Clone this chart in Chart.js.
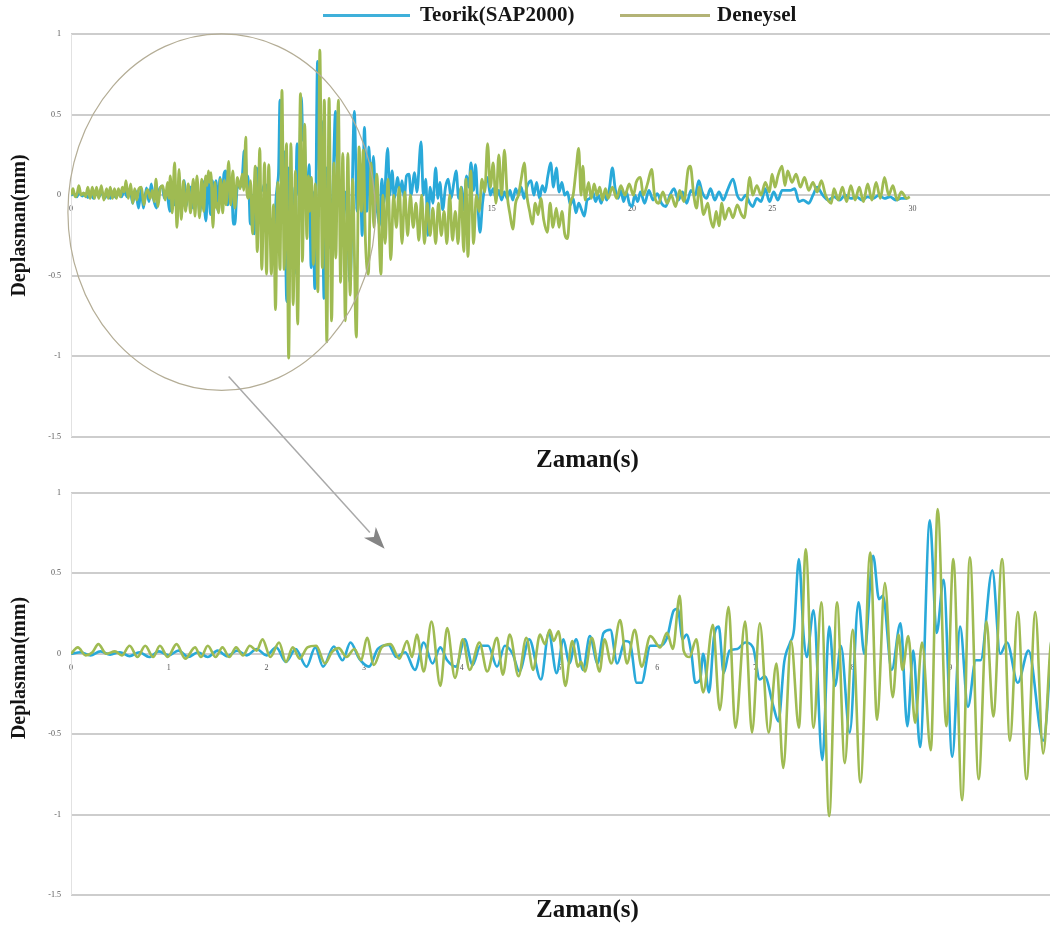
<!DOCTYPE html>
<html>
<head>
<meta charset="utf-8">
<script src="https://cdn.jsdelivr.net/npm/chart.js@4.4.1/dist/chart.umd.min.js"></script>
<style>
  html, body { margin: 0; padding: 0; background: #fff; }
  #page { position: relative; width: 1052px; height: 931px; overflow: hidden; }
  #page canvas { position: absolute; left: 0; }
  #topChart { top: 0; }
  #bottomChart { top: 478px; }
  #overlay { top: 0; pointer-events: none; }
  .legend { position: absolute; left: 0; top: 0; font: bold 21px "Liberation Serif", "Times New Roman", serif; color: #151515; }
  .legend .key { position: absolute; top: 14px; height: 3px; }
  .legend .lbl { position: absolute; top: 2px; line-height: 24px; white-space: nowrap; }
</style>
</head>
<body>
<div id="page">
  <canvas id="topChart" width="1052" height="478"></canvas>
  <canvas id="bottomChart" width="1052" height="453"></canvas>
  <canvas id="overlay" width="1052" height="931"></canvas>
  <div class="legend" id="legend"></div>
</div>
<script>
// Series names and colours
const seriesNames = ['Teorik(SAP2000)', 'Deneysel'];
const seriesColors = ['#29a9d9', '#9fbb52'];
const legendKeyColors = ['#3fb0da', '#b3b376'];

// Axis labels
const xTitle = 'Zaman(s)';
const yTitle = 'Deplasman(mm)';
const yTickValues = [1, 0.5, 0, -0.5, -1, -1.5];

// Teorik (SAP2000) displacement, [time s, displacement mm]
const teorikPoints = [
  [0,0],[0.1,0.01],[0.2,-0.01],[0.3,0.015],[0.4,-0.005],[0.5,0.01],[0.6,-0.015],[0.7,0.01],
  [0.8,-0.02],[0.9,0.015],[1.0,-0.01],[1.1,0.02],[1.2,-0.02],[1.3,0.01],[1.4,-0.02],[1.5,0.02],
  [1.6,-0.015],[1.7,0.02],[1.8,-0.01],[1.9,0.03],[2.0,-0.01],[2.1,0.04],[2.2,-0.05],[2.3,0.03],
  [2.41,-0.08],[2.5,0.04],[2.58,-0.08],[2.69,0.045],[2.78,-0.04],[2.86,0.07],[2.95,-0.03],[3.05,-0.08],
  [3.14,0.03],[3.25,0.055],[3.33,-0.02],[3.42,0.01],[3.52,-0.1],[3.61,0.07],[3.7,-0.06],[3.78,0.04],
  [3.85,-0.04],[3.94,-0.08],[4.03,0.09],[4.11,-0.07],[4.19,0.05],[4.27,0.05],[4.36,-0.08],[4.44,0.05],
  [4.52,0.0],[4.59,-0.11],[4.69,0.09],[4.81,-0.16],[4.89,0.13],[4.97,-0.12],[5.04,0.09],[5.1,-0.06],
  [5.17,0.09],[5.24,-0.1],[5.31,0.11],[5.39,-0.06],[5.45,0.13],[5.52,0.15],[5.59,-0.06],[5.67,0.08],
  [5.72,0.07],[5.79,-0.18],[5.84,-0.18],[5.93,0.05],[6.03,0.05],[6.1,0.1],[6.17,0.27],[6.21,0.28],
  [6.26,0.09],[6.3,0.12],[6.35,0.0],[6.39,-0.18],[6.44,-0.16],[6.47,0.0],[6.53,-0.24],[6.58,0.1],
  [6.63,0.17],[6.68,-0.12],[6.74,0.02],[6.82,0.03],[6.9,0.07],[6.98,0.04],[7.05,-0.16],[7.1,-0.14],
  [7.19,-0.33],[7.24,-0.42],[7.3,-0.05],[7.36,0.07],[7.4,0.15],[7.45,0.59],[7.5,0.1],[7.53,-0.02],
  [7.6,0.27],[7.69,-0.66],[7.76,0.17],[7.82,-0.2],[7.88,0.05],[7.97,-0.49],[8.06,0.32],[8.12,0.0],
  [8.21,0.61],[8.27,0.34],[8.31,0.36],[8.4,-0.1],[8.49,0.19],[8.56,-0.45],[8.62,0.02],[8.69,-0.58],
  [8.79,0.83],[8.86,0.13],[8.93,0.46],[9.02,-0.64],[9.1,0.17],[9.18,-0.33],[9.26,-0.04],[9.31,-0.04],
  [9.43,0.52],[9.51,0.0],[9.58,0.07],[9.69,-0.18],[9.8,0.02],[9.95,-0.54],[10.1,0.52],[10.2,-0.1],
  [10.3,0.2],[10.38,-0.25],[10.46,0.42],[10.55,-0.1],[10.62,0.3],[10.7,-0.05],[10.78,0.24],[10.86,-0.05],
  [10.93,-0.11],[11.0,-0.19],[11.08,0.1],[11.15,-0.05],[11.29,0.29],[11.36,0.0],[11.45,0.15],[11.52,-0.02],
  [11.65,0.11],[11.72,0.0],[11.8,0.09],[11.88,-0.02],[11.96,0.12],[12.05,0.13],[12.12,0.0],[12.25,0.14],
  [12.33,0.02],[12.48,0.33],[12.56,0.0],[12.65,0.1],[12.72,-0.25],[12.8,0.05],[12.9,-0.05],[13.0,0.17],
  [13.08,-0.02],[13.15,0.08],[13.25,-0.09],[13.35,0.05],[13.45,0.1],[13.55,-0.02],[13.65,0.08],[13.73,0.15],
  [13.82,-0.02],[13.92,0.05],[14.0,-0.09],[14.1,0.12],[14.18,0.05],[14.26,0.2],[14.35,0.03],[14.42,0.19],
  [14.5,-0.05],[14.58,-0.23],[14.67,-0.05],[14.75,0.05],[14.85,0.11],[14.95,0.0],[15.05,0.04],[15.15,-0.02],
  [15.25,0.03],[15.35,-0.03],[15.45,0.02],[15.55,-0.02],[15.65,0.03],[15.75,-0.03],[15.85,0.04],[15.95,0.0],
  [16.05,0.05],[16.15,-0.02],[16.25,0.05],[16.4,0.09],[16.5,0.0],[16.6,0.08],[16.7,-0.02],[16.8,0.06],
  [16.9,0.02],[17.0,0.12],[17.1,0.2],[17.2,0.05],[17.3,0.17],[17.4,0.02],[17.5,0.08],[17.6,0.0],
  [17.7,0.02],[17.8,-0.06],[17.9,-0.02],[18.0,-0.11],[18.1,-0.05],[18.2,-0.09],[18.3,-0.13],[18.4,-0.03],
  [18.5,-0.02],[18.6,0.02],[18.7,-0.04],[18.8,0.0],[18.9,-0.05],[19.0,0.01],[19.1,-0.03],[19.2,0.05],
  [19.3,0.17],[19.4,0.04],[19.5,-0.02],[19.6,0.03],[19.7,-0.04],[19.8,0.02],[19.9,-0.05],[20.0,-0.07],
  [20.1,0.0],[20.2,-0.04],[20.3,0.02],[20.45,-0.05],[20.6,0.03],[20.75,-0.03],[20.9,0.01],[21.05,-0.05],
  [21.2,-0.07],[21.35,0.0],[21.5,0.04],[21.65,-0.03],[21.8,0.02],[21.95,-0.05],[22.1,0.03],[22.25,0.0],
  [22.38,0.09],[22.5,0.02],[22.65,-0.02],[22.8,0.04],[22.95,-0.03],[23.1,0.02],[23.25,-0.03],[23.4,0.03],
  [23.6,0.1],[23.75,0.0],[23.9,-0.03],[24.05,0.0],[24.2,-0.05],[24.3,-0.07],[24.45,-0.02],[24.6,-0.04],
  [24.75,0.04],[24.9,-0.04],[25.05,0.02],[25.2,-0.03],[25.35,0.03],[25.5,0.03],[25.65,0.03],[25.8,0.04],
  [25.95,-0.04],[26.1,-0.03],[26.3,-0.05],[26.45,0.0],[26.6,0.05],[26.8,0.0],[27.0,-0.03],[27.2,-0.01],
  [27.4,-0.03],[27.6,0.0],[27.8,-0.02],[28.0,-0.01],[28.2,-0.03],[28.4,-0.01],[28.6,-0.02],[28.8,0.0],
  [29.0,-0.02],[29.2,-0.01],[29.4,-0.03],[29.6,-0.02],[29.8,-0.02]
];

// Deneysel (measured) displacement, [time s, displacement mm]
const deneyselPoints = [
  [0,0],[0.07,0.04],[0.15,-0.01],[0.22,0.01],[0.28,0.06],[0.36,0.0],[0.45,0.015],[0.52,-0.01],
  [0.6,0.05],[0.68,-0.02],[0.76,0.05],[0.84,-0.02],[0.91,0.05],[0.99,-0.02],[1.08,0.06],[1.17,-0.03],
  [1.27,0.04],[1.33,-0.02],[1.4,0.05],[1.48,-0.02],[1.55,0.04],[1.62,-0.02],[1.69,0.04],[1.76,-0.01],
  [1.83,0.05],[1.9,0.02],[1.96,0.09],[2.04,-0.02],[2.13,0.07],[2.2,-0.05],[2.27,0.04],[2.34,-0.03],
  [2.42,0.04],[2.51,0.05],[2.6,-0.06],[2.67,0.01],[2.74,0.035],[2.82,-0.02],[2.9,0.03],[2.97,-0.04],
  [3.03,0.1],[3.1,-0.07],[3.18,0.04],[3.27,0.06],[3.36,-0.03],[3.44,0.08],[3.49,-0.02],[3.54,0.12],
  [3.61,-0.11],[3.69,0.2],[3.78,-0.2],[3.85,0.16],[3.93,-0.15],[4.01,0.09],[4.08,-0.1],[4.18,0.07],
  [4.26,-0.11],[4.36,0.1],[4.42,-0.13],[4.49,0.12],[4.58,-0.14],[4.66,0.1],[4.73,-0.1],[4.8,0.12],
  [4.85,0.06],[4.9,0.15],[4.94,0.08],[4.99,0.14],[5.06,-0.2],[5.13,0.08],[5.19,-0.08],[5.22,-0.05],
  [5.26,-0.11],[5.33,0.1],[5.41,-0.11],[5.46,0.09],[5.53,-0.06],[5.62,0.21],[5.69,-0.06],[5.77,0.15],
  [5.84,-0.08],[5.93,0.11],[6.03,0.04],[6.1,0.13],[6.16,0.03],[6.23,0.36],[6.27,0.02],[6.33,-0.02],
  [6.4,0.09],[6.47,-0.24],[6.57,0.18],[6.64,-0.35],[6.73,0.29],[6.8,-0.46],[6.9,0.2],[6.97,-0.49],
  [7.05,0.19],[7.14,-0.49],[7.22,-0.06],[7.29,-0.71],[7.37,0.08],[7.45,-0.46],[7.52,0.65],[7.6,-0.46],
  [7.68,0.32],[7.76,-1.01],[7.84,0.32],[7.92,-0.68],[8.0,0.15],[8.08,-0.8],[8.18,0.63],[8.25,-0.41],
  [8.33,0.44],[8.41,-0.27],[8.47,0.12],[8.51,-0.1],[8.57,0.11],[8.64,-0.43],[8.71,0.07],[8.8,-0.6],
  [8.87,0.9],[8.96,-0.45],[9.03,0.59],[9.12,-0.91],[9.2,0.6],[9.29,-0.78],[9.37,0.2],[9.44,-0.39],
  [9.53,0.59],[9.61,-0.54],[9.69,0.26],[9.78,-0.78],[9.87,0.26],[9.95,-0.62],[10.04,0.1],[10.17,-0.88],
  [10.27,0.3],[10.35,-0.1],[10.42,0.28],[10.5,-0.3],[10.6,-0.49],[10.7,0.2],[10.8,-0.2],[10.9,0.13],
  [11.05,-0.49],[11.12,0.0],[11.2,-0.3],[11.3,0.1],[11.4,-0.4],[11.5,0.0],[11.6,-0.2],[11.7,0.05],
  [11.8,-0.3],[11.9,0.02],[12.0,-0.25],[12.1,0.0],[12.2,-0.2],[12.3,-0.05],[12.4,-0.28],[12.5,0.0],
  [12.6,-0.3],[12.7,-0.05],[12.8,-0.25],[12.9,-0.08],[13.0,-0.3],[13.1,-0.05],[13.2,-0.25],[13.3,-0.1],
  [13.4,-0.3],[13.5,0.0],[13.6,-0.28],[13.7,-0.1],[13.8,-0.3],[13.9,0.05],[14.0,-0.35],[14.08,0.1],
  [14.15,-0.38],[14.25,0.15],[14.35,-0.3],[14.45,0.0],[14.55,-0.1],[14.65,0.1],[14.75,0.02],[14.85,0.32],
  [14.95,0.05],[15.05,0.2],[15.15,-0.05],[15.25,0.25],[15.35,0.0],[15.45,0.28],[15.55,0.0],[15.65,-0.12],
  [15.75,-0.21],[15.85,-0.05],[15.95,0.0],[16.05,0.1],[16.16,0.2],[16.25,0.0],[16.35,-0.1],[16.45,-0.18],
  [16.55,-0.05],[16.65,-0.12],[16.75,-0.02],[16.85,-0.15],[16.98,-0.23],[17.08,-0.05],[17.18,-0.2],[17.3,-0.08],
  [17.4,-0.2],[17.5,-0.1],[17.6,-0.24],[17.7,-0.27],[17.8,-0.05],[17.9,0.0],[18.0,0.15],[18.1,0.29],
  [18.18,0.0],[18.25,0.18],[18.33,-0.03],[18.45,0.08],[18.55,-0.02],[18.65,0.07],[18.75,0.0],[18.85,0.05],
  [18.95,-0.03],[19.05,0.04],[19.15,-0.02],[19.3,0.05],[19.45,-0.02],[19.6,0.06],[19.75,0.0],[19.9,0.07],
  [20.05,0.0],[20.15,0.08],[20.3,0.11],[20.4,0.0],[20.55,0.07],[20.7,0.16],[20.8,0.0],[20.95,-0.05],
  [21.1,0.02],[21.25,-0.05],[21.4,0.0],[21.55,-0.07],[21.7,0.03],[21.85,-0.04],[22.0,0.16],[22.08,0.18],
  [22.2,0.0],[22.3,-0.08],[22.4,0.05],[22.55,-0.12],[22.7,-0.05],[22.8,-0.15],[22.9,-0.2],[23.0,-0.1],
  [23.1,-0.19],[23.2,-0.05],[23.3,-0.15],[23.45,-0.08],[23.6,-0.14],[23.75,-0.06],[23.9,-0.12],[24.0,-0.14],
  [24.1,-0.02],[24.2,0.11],[24.3,0.0],[24.45,0.06],[24.6,0.0],[24.75,0.08],[24.9,0.02],[24.99,0.13],
  [25.1,0.05],[25.2,0.12],[25.35,0.18],[25.45,0.06],[25.55,0.15],[25.7,0.08],[25.85,0.13],[26.0,0.05],
  [26.15,0.11],[26.3,0.03],[26.45,0.08],[26.6,0.02],[26.75,0.09],[26.9,0.0],[27.1,-0.05],[27.2,0.04],
  [27.35,-0.03],[27.5,0.05],[27.65,-0.04],[27.8,0.06],[27.95,-0.03],[28.1,0.05],[28.25,-0.04],[28.4,0.07],
  [28.55,-0.03],[28.7,0.08],[28.85,-0.02],[29.0,0.11],[29.15,0.0],[29.3,0.06],[29.45,-0.03],[29.6,0.02],
  [29.8,-0.02],[29.9,-0.01]
];

// Highlighted window in the full record (ellipse centre and radii, data units)
const zoomRing = { t: 5.37, v: -0.105, dt: 5.48, dv: 1.106 };
// Arrow from the ellipse to the enlarged record (data units of each panel)
const arrowFrom = { t: 5.62, v: -1.124 };
const arrowTo = { t: 3.21, v: 0.653 };

function toXY(points) { return points.map(p => ({ x: p[0], y: p[1] })); }

function buildDatasets() {
  return [
    { label: seriesNames[0], data: toXY(teorikPoints), borderColor: seriesColors[0], order: 1 },
    { label: seriesNames[1], data: toXY(deneyselPoints), borderColor: seriesColors[1], order: 0 }
  ];
}

const ringPlugin = {
  id: 'zoomRing',
  afterDatasetsDraw(chart) {
    const { ctx, scales: { x, y } } = chart;
    const cx = x.getPixelForValue(zoomRing.t);
    const cy = y.getPixelForValue(zoomRing.v);
    const rx = x.getPixelForValue(zoomRing.t + zoomRing.dt) - cx;
    const ry = cy - y.getPixelForValue(zoomRing.v + zoomRing.dv);
    ctx.save();
    ctx.beginPath();
    ctx.ellipse(cx, cy, rx, ry, 0, 0, Math.PI * 2);
    ctx.strokeStyle = '#b4ad96';
    ctx.lineWidth = 1.2;
    ctx.stroke();
    ctx.restore();
  }
};

// Nudges the axis captions off the plot centre and draws the left plot edge
const captionShift = {
  id: 'captionShift',
  afterLayout(chart, args, opts) {
    const xs = chart.scales.xt, ys = chart.scales.y;
    if (xs) { xs.left += opts.xShift; xs.right += opts.xShift; }
    if (ys) { ys.top += opts.yShift; ys.bottom += opts.yShift; }
  },
  beforeDatasetsDraw(chart) {
    const { ctx, chartArea: a } = chart;
    ctx.save();
    ctx.strokeStyle = '#e2e2e2';
    ctx.lineWidth = 1;
    ctx.beginPath();
    ctx.moveTo(a.left + 0.5, a.top);
    ctx.lineTo(a.left + 0.5, a.bottom);
    ctx.stroke();
    ctx.restore();
  }
};

function makeOptions(cfg) {
  const tickFont = { family: 'Liberation Serif', size: 8 };
  return {
    responsive: false,
    animation: false,
    events: [],
    layout: { padding: { top: cfg.padTop, right: 2, left: 0, bottom: 0 } },
    plugins: {
      legend: { display: false }, tooltip: { enabled: false },
      captionShift: { xShift: 27, yShift: cfg.yTitleShift }
    },
    elements: {
      point: { radius: 0 },
      line: { borderWidth: cfg.lineWidth, cubicInterpolationMode: 'monotone' }
    },
    scales: {
      x: {
        type: 'linear', axis: 'x', min: 0, max: cfg.xMax, position: { y: 0 },
        grid: { display: false, drawTicks: false },
        border: { display: false },
        afterBuildTicks(scale) {
          const ticks = [];
          for (let v = 0; v <= cfg.lastTick; v += cfg.xStep) ticks.push({ value: v });
          scale.ticks = ticks;
        },
        ticks: {
          padding: 9, maxRotation: 0, autoSkip: false,
          font: tickFont, color: '#555',
          callback: v => String(v)
        }
      },
      xt: {
        type: 'linear', axis: 'x', position: 'bottom',
        grid: { display: false, drawTicks: false },
        border: { display: false },
        ticks: { display: false },
        title: {
          display: true, text: xTitle, color: '#141414',
          font: { family: 'Liberation Serif', size: 25, weight: 'bold', lineHeight: 1.2 },
          padding: { top: 0, bottom: cfg.xTitlePad }
        },
        afterFit(scale) { scale.height = cfg.xtHeight; }
      },
      y: {
        type: 'linear', min: -1.5, max: 1,
        afterBuildTicks(scale) { scale.ticks = yTickValues.map(v => ({ value: v })); },
        ticks: { padding: 10, font: tickFont, color: '#555', callback: v => String(v) },
        grid: { color: '#cdcdcd', lineWidth: 2, drawTicks: false },
        border: { display: false },
        title: {
          display: true, text: yTitle, color: '#141414',
          font: { family: 'Liberation Serif', size: 20, weight: 'bold', lineHeight: 1.2 },
          padding: { top: 8, bottom: 0 }
        },
        afterFit(scale) { scale.width = 71; }
      }
    }
  };
}

const topChart = new Chart(document.getElementById('topChart'), {
  type: 'line',
  data: { datasets: buildDatasets() },
  options: makeOptions({ padTop: 34, xMax: 34.9, xStep: 5, lastTick: 30, xtHeight: 41, xTitlePad: 2, lineWidth: 2.8, yTitleShift: -10 }),
  plugins: [ringPlugin, captionShift]
});

const bottomChart = new Chart(document.getElementById('bottomChart'), {
  type: 'line',
  data: { datasets: buildDatasets() },
  options: makeOptions({ padTop: 15, xMax: 10.02, xStep: 1, lastTick: 9, xtHeight: 36, xTitlePad: 5, lineWidth: 2.6, yTitleShift: -26 }),
  plugins: [captionShift]
});

// Legend shared by both panels
(function drawLegend() {
  const box = document.getElementById('legend');
  const layout = [
    { keyLeft: 323, keyWidth: 87, textLeft: 420 },
    { keyLeft: 620, keyWidth: 90, textLeft: 717 }
  ];
  seriesNames.forEach((name, i) => {
    const key = document.createElement('div');
    key.className = 'key';
    key.style.left = layout[i].keyLeft + 'px';
    key.style.width = layout[i].keyWidth + 'px';
    key.style.background = legendKeyColors[i];
    box.appendChild(key);
    const lbl = document.createElement('div');
    lbl.className = 'lbl';
    lbl.style.left = layout[i].textLeft + 'px';
    lbl.textContent = name;
    box.appendChild(lbl);
  });
})();

// Arrow linking the ringed window to the enlarged panel
(function drawArrow() {
  const ctx = document.getElementById('overlay').getContext('2d');
  const bottomTop = document.getElementById('bottomChart').offsetTop;
  const x0 = topChart.scales.x.getPixelForValue(arrowFrom.t);
  const y0 = topChart.scales.y.getPixelForValue(arrowFrom.v);
  const x1 = bottomChart.scales.x.getPixelForValue(arrowTo.t);
  const y1 = bottomChart.scales.y.getPixelForValue(arrowTo.v) + bottomTop;
  const ang = Math.atan2(y1 - y0, x1 - x0);
  const headLen = 22, headHalf = 8;
  const bx = x1 - headLen * Math.cos(ang), by = y1 - headLen * Math.sin(ang);
  ctx.strokeStyle = '#a9a9a9';
  ctx.lineWidth = 1.5;
  ctx.beginPath();
  ctx.moveTo(x0, y0);
  ctx.lineTo(bx, by);
  ctx.stroke();
  ctx.fillStyle = '#858585';
  ctx.beginPath();
  ctx.moveTo(x1, y1);
  ctx.lineTo(bx + headHalf * Math.sin(ang), by - headHalf * Math.cos(ang));
  ctx.lineTo(bx + 6 * Math.cos(ang), by + 6 * Math.sin(ang));
  ctx.lineTo(bx - headHalf * Math.sin(ang), by + headHalf * Math.cos(ang));
  ctx.closePath();
  ctx.fill();
})();
</script>
</body>
</html>
